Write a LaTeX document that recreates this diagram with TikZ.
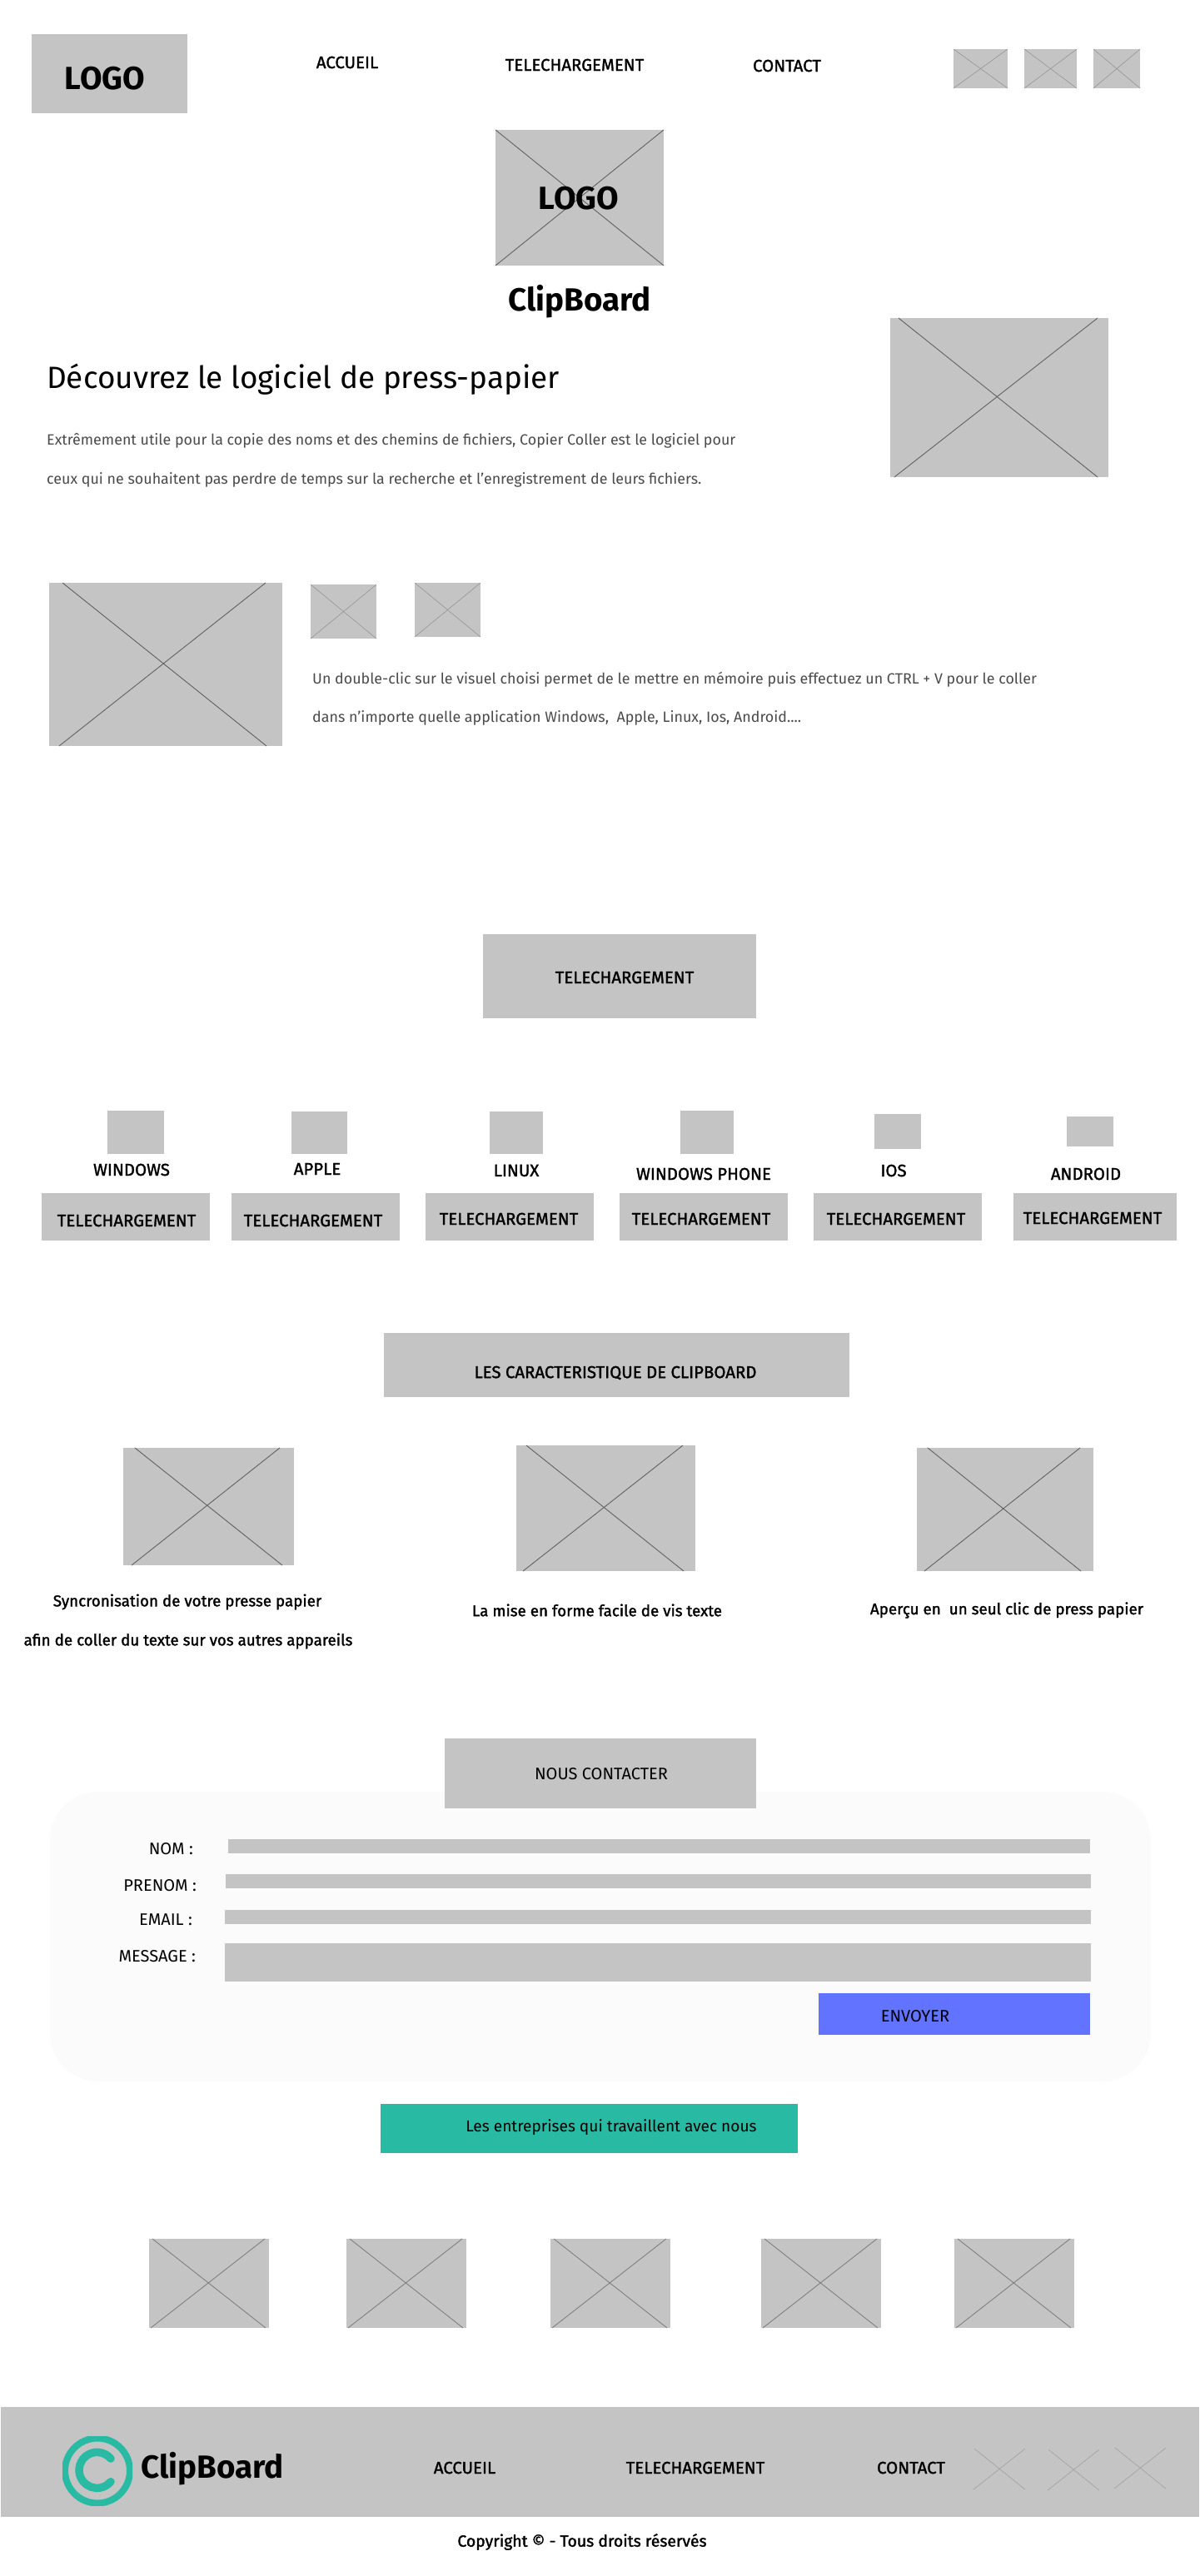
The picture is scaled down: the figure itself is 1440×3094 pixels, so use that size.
\documentclass[tikz,border=0pt]{standalone}
\usepackage{fontspec}
\usetikzlibrary{positioning,calc}
\setmainfont{Fira Sans}
\newfontfamily\medfont[FakeBold=1.6]{Fira Sans}
\definecolor{wiregrey}{HTML}{C4C4C4}
\definecolor{panelgrey}{HTML}{FBFBFB}
\definecolor{sendblue}{HTML}{6173FF}
\definecolor{clipgreen}{HTML}{28BAA3}
\definecolor{bodygrey}{HTML}{4A4A4A}
\tikzset{
    block/.style={fill=wiregrey},
    crossbig/.style={draw=black!62,line width=0.9pt},
    crossmid/.style={draw=black!52,line width=0.8pt},
    crosssmall/.style={draw=black!42,line width=0.6pt},
    crossfoot/.style={draw=black!36,line width=0.7pt},
    navtext/.style={inner sep=0pt,font=\medfont\fontsize{20.4}{24}\selectfont},
    captext/.style={inner sep=0pt,font=\medfont\fontsize{18.8}{22}\selectfont},
    formtext/.style={inner sep=0pt,font=\fontsize{20}{24}\selectfont},
    partnertext/.style={inner sep=0pt,font=\fontsize{19.1}{24}\selectfont},
    bodytext/.style={inner sep=0pt,anchor=west,text=bodygrey,font=\fontsize{17.85}{22}\selectfont},
    logotext/.style={inner sep=0pt,font=\bfseries\fontsize{38.5}{40}\selectfont},
    brandtext/.style={inner sep=0pt,font=\bfseries\fontsize{38.5}{40}\selectfont}
}
\begin{document}
\begin{tikzpicture}[x=1pt,y=-1pt]
        \useasboundingbox (0,0) rectangle (1440,3094);
        % header
        \fill[block] (38,41) rectangle (225,136);
        \node[logotext] (toplogo) at (126,94) {LOGO};
        \node[navtext] (navhome) at (417,75) {ACCUEIL};
        \node[navtext] (navdown) at (690,78) {TELECHARGEMENT};
        \node[navtext] (navmail) at (945,79) {CONTACT};
        \fill[block] (1145,59) rectangle (1210,106);
        \draw[crosssmall] (1145,59) -- (1210,106);
        \draw[crosssmall] (1210,59) -- (1145,106);
        \fill[block] (1230,59) rectangle (1293,106);
        \draw[crosssmall] (1230,59) -- (1293,106);
        \draw[crosssmall] (1293,59) -- (1230,106);
        \fill[block] (1313,59) rectangle (1369,106);
        \draw[crosssmall] (1313,59) -- (1369,106);
        \draw[crosssmall] (1369,59) -- (1313,106);
        % hero
        \fill[block] (595,156) rectangle (797,319);
        \draw[crossbig] (595,156) -- (797,319);
        \draw[crossbig] (797,156) -- (595,319);
        \node[logotext] (midlogo) at (695,238) {LOGO};
        \node[brandtext] (midbrand) at (696,362) {ClipBoard};
        \node[inner sep=0pt,anchor=west,font=\fontsize{36.9}{40}\selectfont] (herotitle) at (56,456) {Découvrez le logiciel de press-papier};
        \node[bodytext] (heroline) at (56,529) {Extrêmement utile pour la copie des noms et des chemins de fichiers, Copier Coller est le logiciel pour};
        \node[bodytext] (herolinetwo) at (56,576) {ceux qui ne souhaitent pas perdre de temps sur la recherche et l’enregistrement de leurs fichiers.};
        \fill[block] (1069,382) rectangle (1331,573);
        \draw[crossbig] (1079,382) -- (1318,573);
        \draw[crossbig] (1318,382) -- (1074,573);
        % double-clic
        \fill[block] (59,700) rectangle (339,896);
        \draw[crossbig] (75,700) -- (320,896);
        \draw[crossbig] (319,700) -- (71,896);
        \fill[block] (373,702) rectangle (452,767);
        \draw[crosssmall] (373,702) -- (452,767);
        \draw[crosssmall] (452,702) -- (373,767);
        \fill[block] (498,700) rectangle (577,765);
        \draw[crosssmall] (498,700) -- (577,765);
        \draw[crosssmall] (577,700) -- (498,765);
        \node[bodytext] (clicline) at (375,816) {Un double-clic sur le visuel choisi permet de le mettre en mémoire puis effectuez un CTRL + V pour le coller};
        \node[bodytext] (diclinetwo) at (375,862) {dans n’importe quelle application Windows,~ Apple, Linux, Ios, Android....};
        % telechargement
        \fill[block] (580,1122) rectangle (908,1223);
        \node[navtext] (downtitle) at (750,1174) {TELECHARGEMENT};
        \fill[block] (129,1334) rectangle (197,1386);
        \fill[block] (350,1335) rectangle (417,1386);
        \fill[block] (588,1335) rectangle (652,1386);
        \fill[block] (817,1334) rectangle (881,1386);
        \fill[block] (1050,1338) rectangle (1106,1380);
        \fill[block] (1281,1341) rectangle (1337,1377);
        \node[navtext] (oswin) at (158,1405) {WINDOWS};
        \node[navtext] (osapple) at (381,1404) {APPLE};
        \node[navtext] (oslinux) at (620,1406) {LINUX};
        \node[navtext] (osphone) at (845,1410) {WINDOWS PHONE};
        \node[navtext] (osios) at (1073,1406) {IOS};
        \node[navtext] (osdroid) at (1304,1410) {ANDROID};
        \fill[block] (50,1433) rectangle (252,1490);
        \fill[block] (278,1433) rectangle (480,1490);
        \fill[block] (511,1433) rectangle (713,1490);
        \fill[block] (744,1433) rectangle (946,1490);
        \fill[block] (977,1433) rectangle (1179,1490);
        \fill[block] (1217,1433) rectangle (1413,1490);
        \node[navtext] (btnwin) at (152,1466) {TELECHARGEMENT};
        \node[navtext] (btnapple) at (376,1466) {TELECHARGEMENT};
        \node[navtext] (btnlinux) at (611,1464) {TELECHARGEMENT};
        \node[navtext] (btnphone) at (842,1464) {TELECHARGEMENT};
        \node[navtext] (btnios) at (1076,1464) {TELECHARGEMENT};
        \node[navtext] (btndroid) at (1312,1463) {TELECHARGEMENT};
        % caracteristiques
        \fill[block] (461,1601) rectangle (1020,1678);
        \node[navtext] (feattitle) at (739,1649) {LES CARACTERISTIQUE DE CLIPBOARD};
        \fill[block] (148,1739) rectangle (353,1880);
        \draw[crossbig] (162,1739) -- (339,1880);
        \draw[crossbig] (336,1739) -- (158,1880);
        \fill[block] (620,1736) rectangle (835,1887);
        \draw[crossbig] (632,1736) -- (821,1887);
        \draw[crossbig] (820,1736) -- (628,1887);
        \fill[block] (1101,1739) rectangle (1313,1887);
        \draw[crossbig] (1114,1739) -- (1298,1887);
        \draw[crossbig] (1297,1739) -- (1110,1887);
        \node[captext] (featsync) at (225,1924) {Syncronisation de votre presse papier};
        \node[captext] (featsynctwo) at (226,1971) {afin de coller du texte sur vos autres appareils};
        \node[captext] (featform) at (717,1934) {La mise en forme facile de vis texte};
        \node[captext] (featview) at (1209,1934) {Aperçu en~ un seul clic de press papier};
        % contact
        \fill[panelgrey,rounded corners=58pt] (60,2152) rectangle (1382,2500);
        \fill[block] (534,2088) rectangle (908,2172);
        \node[formtext] (mailtitle) at (722,2131) {NOUS CONTACTER};
        \node[formtext,anchor=east] (lblnom) at (232,2221) {NOM :};
        \node[formtext,anchor=east] (lblprenom) at (236,2265) {PRENOM :};
        \node[formtext,anchor=east] (lblemail) at (231,2306) {EMAIL :};
        \node[formtext,anchor=east] (lblmsg) at (235,2350) {MESSAGE :};
        \fill[block] (274,2209) rectangle (1309,2226);
        \fill[block] (271,2251) rectangle (1310,2268);
        \fill[block] (270,2294) rectangle (1310,2311);
        \fill[block] (270,2334) rectangle (1310,2380);
        \fill[sendblue] (983,2394) rectangle (1309,2444);
        \node[formtext] (sendbtn) at (1099,2422) {ENVOYER};
        \fill[clipgreen] (457,2527) rectangle (958,2586);
        \node[partnertext] (partners) at (734,2555) {Les entreprises qui travaillent avec nous};
        % partenaires
        \fill[block] (179,2689) rectangle (323,2796);
        \draw[crossmid] (183,2689) -- (319,2796);
        \draw[crossmid] (318,2689) -- (181,2796);
        \fill[block] (416,2689) rectangle (560,2796);
        \draw[crossmid] (420,2689) -- (556,2796);
        \draw[crossmid] (555,2689) -- (418,2796);
        \fill[block] (661,2689) rectangle (805,2796);
        \draw[crossmid] (665,2689) -- (801,2796);
        \draw[crossmid] (800,2689) -- (663,2796);
        \fill[block] (914,2689) rectangle (1058,2796);
        \draw[crossmid] (918,2689) -- (1054,2796);
        \draw[crossmid] (1053,2689) -- (916,2796);
        \fill[block] (1146,2689) rectangle (1290,2796);
        \draw[crossmid] (1150,2689) -- (1286,2796);
        \draw[crossmid] (1285,2689) -- (1148,2796);
        % footer
        \fill[block] (1,2891) rectangle (1440,3023);
        \begin{scope}
            \clip (75,2926) rectangle (159,3009);
            \draw[clipgreen,line width=8pt] (117,2967.5) circle (39pt);
        \end{scope}
        \draw[clipgreen,line width=9.5pt,line cap=round] (133,2953) arc[start angle=40,end angle=320,radius=21.5pt];
        \node[brandtext] (footbrand) at (255,2965) {ClipBoard};
        \node[navtext] (foothome) at (558,2964) {ACCUEIL};
        \node[navtext] (footdown) at (835,2964) {TELECHARGEMENT};
        \node[navtext] (footmail) at (1094,2964) {CONTACT};
        \draw[crossfoot] (1170,2941) -- (1231,2990);
        \draw[crossfoot] (1231,2941) -- (1169,2990);
        \draw[crossfoot] (1259,2942) -- (1320,2991);
        \draw[crossfoot] (1320,2942) -- (1258,2991);
        \draw[crossfoot] (1339,2940) -- (1400,2989);
        \draw[crossfoot] (1400,2940) -- (1338,2989);
        \node[inner sep=0pt,font=\medfont\fontsize{19.4}{22}\selectfont] (copyright) at (699,3053) {Copyright © - Tous droits réservés};
\end{tikzpicture}
\end{document}
